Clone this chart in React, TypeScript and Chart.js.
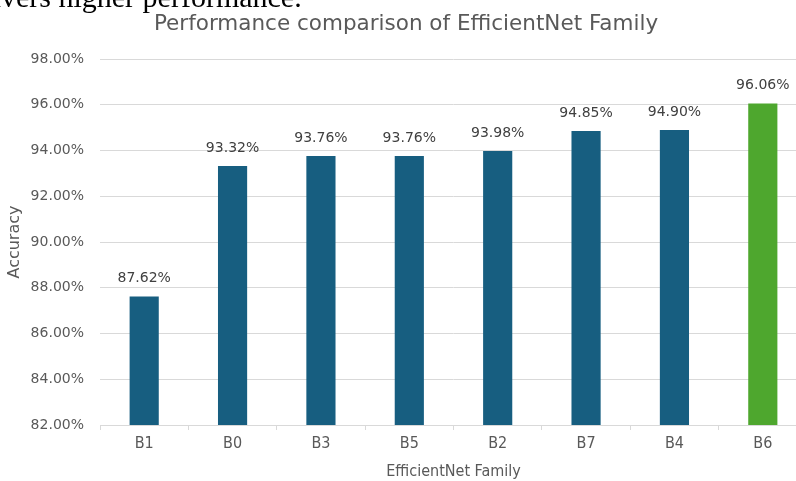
import React, { useEffect, useRef } from "react";
import { Chart, registerables } from "chart.js";

Chart.register(...registerables);

const categories = ["B1", "B0", "B3", "B5", "B2", "B7", "B4", "B6"];
const accuracy = [87.62, 93.32, 93.76, 93.76, 93.98, 94.85, 94.9, 96.06];
const barColors = ["#175E80", "#175E80", "#175E80", "#175E80", "#175E80", "#175E80", "#175E80", "#4EA72E"];
const yMin = 82;
const yMax = 98;
const yStep = 2;
const chartTitle = "Performance comparison of EfficientNet Family";
const xTitle = "EfficientNet Family";
const yTitle = "Accuracy";
const topCaption = "delivers higher performance.";

const SANS = "'DejaVu Sans', sans-serif";
const NARROW = "'DejaVu Sans Condensed', 'DejaVu Sans', sans-serif";

const labelPlugin = {
  id: "valueLabels",
  afterDatasetsDraw(chart: any) {
    const ctx = chart.ctx;
    const meta = chart.getDatasetMeta(0);
    ctx.save();
    ctx.font = `14px ${SANS}`;
    ctx.fillStyle = "#404040";
    ctx.textAlign = "center";
    ctx.textBaseline = "alphabetic";
    meta.data.forEach((bar: any, i: number) => {
      ctx.fillText(accuracy[i].toFixed(2) + "%", bar.x, bar.y - 14);
    });
    ctx.restore();
  },
};

const titlePlugin = {
  id: "customTitle",
  afterDraw(chart: any) {
    const ctx = chart.ctx;
    ctx.save();
    ctx.font = `21.5px ${SANS}`;
    ctx.fillStyle = "#595959";
    ctx.textAlign = "center";
    ctx.textBaseline = "alphabetic";
    ctx.fillText(chartTitle, 406, 30);
    ctx.restore();
  },
};

export default function App() {
  const ref = useRef<HTMLCanvasElement>(null);
  useEffect(() => {
    if (!ref.current) return;
    const chart = new Chart(ref.current, {
      type: "bar",
      data: {
        labels: categories,
        datasets: [
          {
            data: accuracy,
            backgroundColor: barColors,
            categoryPercentage: 1,
            barPercentage: 0.33,
          },
        ],
      },
      options: {
        responsive: false,
        animation: false,
        layout: { padding: { top: 59, right: 3, left: 0, bottom: 0 } },
        plugins: {
          legend: { display: false },
          tooltip: { enabled: false },
          title: { display: false },
        },
        scales: {
          x: {
            afterFit(scale: any) {
              scale.height = 56;
            },
            grid: {
              display: true,
              offset: true,
              drawOnChartArea: false,
              drawTicks: true,
              tickLength: 5,
              color: "#D9D9D9",
            },
            border: { display: true, color: "#D9D9D9" },
            ticks: {
              color: "#595959",
              font: { family: NARROW, size: 16 },
              padding: 4,
            },
            title: {
              display: true,
              text: xTitle,
              color: "#595959",
              font: { family: NARROW, size: 16 },
              padding: { top: 2, bottom: 0 },
            },
          },
          y: {
            min: yMin,
            max: yMax,
            afterFit(scale: any) {
              scale.width = 100;
            },
            grid: { color: "#D9D9D9", drawTicks: false },
            border: { display: false },
            ticks: {
              stepSize: yStep,
              color: "#595959",
              font: { family: SANS, size: 14 },
              padding: 16,
              callback: (v: any) => Number(v).toFixed(2) + "%",
            },
            title: {
              display: true,
              text: yTitle,
              color: "#595959",
              font: { family: SANS, size: 16 },
              padding: { top: 5, bottom: 0 },
            },
          },
        },
      },
      plugins: [labelPlugin, titlePlugin],
    });
    return () => chart.destroy();
  }, []);

  return (
    <div
      style={{
        position: "absolute",
        left: 0,
        top: 0,
        width: 796,
        height: 481,
        overflow: "hidden",
        background: "#fff",
      }}
    >
      <canvas ref={ref} width={810} height={481} style={{ position: "absolute", left: 0, top: 0 }} />
      <div
        style={{
          position: "absolute",
          left: -44,
          top: -18,
          fontFamily: "'Liberation Serif', 'Times New Roman', serif",
          fontSize: 30,
          lineHeight: "30px",
          whiteSpace: "nowrap",
          color: "#000",
        }}
      >
        {topCaption}
      </div>
    </div>
  );
}
